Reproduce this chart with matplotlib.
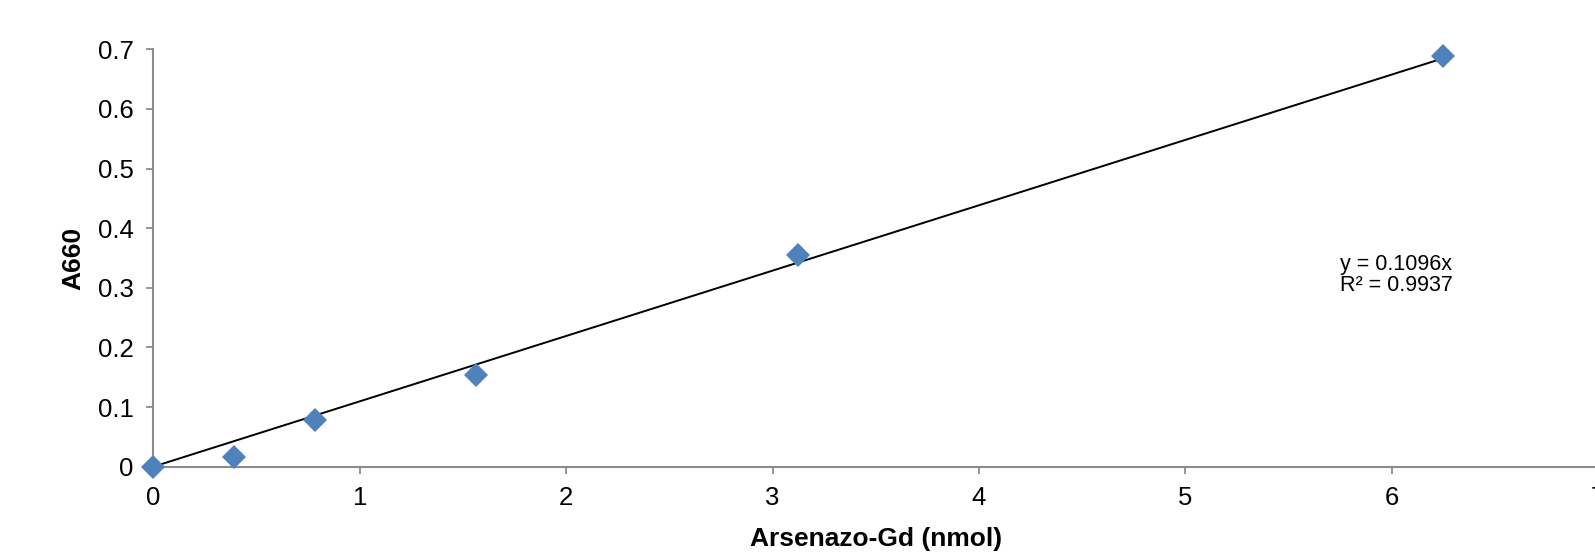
import matplotlib
matplotlib.use("Agg")
import matplotlib.pyplot as plt
import numpy as np

# standard curve data
conc = [0, 0.390625, 0.78125, 1.5625, 3.125, 6.25]
a660 = [0.0, 0.017, 0.079, 0.153, 0.355, 0.689]
slope = 0.1096
r2 = 0.9937
x_ticks = [0, 1, 2, 3, 4, 5, 6, 7]
y_ticks = [0, 0.1, 0.2, 0.3, 0.4, 0.5, 0.6, 0.7]

plt.rcParams['font.family'] = ['Liberation Sans', 'DejaVu Sans']

fig = plt.figure(figsize=(15.95, 5.53), dpi=100)
ax = fig.add_axes([153.3 / 1595, 86.3 / 553, 1444.8 / 1595, 417.4 / 553])

# trendline through origin
fit_x = np.array([0, max(conc)])
ax.plot(fit_x, slope * fit_x, color='black', lw=1.4, zorder=2)
ax.plot(conc, a660, ls='none', marker='D', ms=12, color='#4F81BD',
        markeredgewidth=0, zorder=3, clip_on=False)

ax.set_xlim(0, 7)
ax.set_ylim(0, 0.7)
ax.set_xticks(x_ticks)
ax.set_yticks(y_ticks)
ax.set_yticklabels(['0', '0.1', '0.2', '0.3', '0.4', '0.5', '0.6', '0.7'])

for s in ['top', 'right']:
    ax.spines[s].set_visible(False)
for s in ['left', 'bottom']:
    ax.spines[s].set_color('#8c8c8c')
    ax.spines[s].set_linewidth(1.5)
ax.tick_params(axis='both', direction='out', length=5, width=1.3,
               color='#8c8c8c', labelsize=18.5, pad=9)

ax.set_xlabel('Arsenazo-Gd (nmol)', fontsize=19, fontweight='bold')
ax.set_ylabel('A660', fontsize=19, fontweight='bold')
ax.xaxis.set_label_coords(0.5, -0.173)
ax.xaxis.label.set_va('center')
ax.yaxis.set_label_coords(-0.0556, 0.5)
ax.yaxis.label.set_va('center')

ax.text(5.75, 0.321, 'y = %.4fx\nR² = %.4f' % (slope, r2), fontsize=15.5,
        ha='left', va='center', linespacing=1.0)

fig.savefig('out.png', dpi=100)
